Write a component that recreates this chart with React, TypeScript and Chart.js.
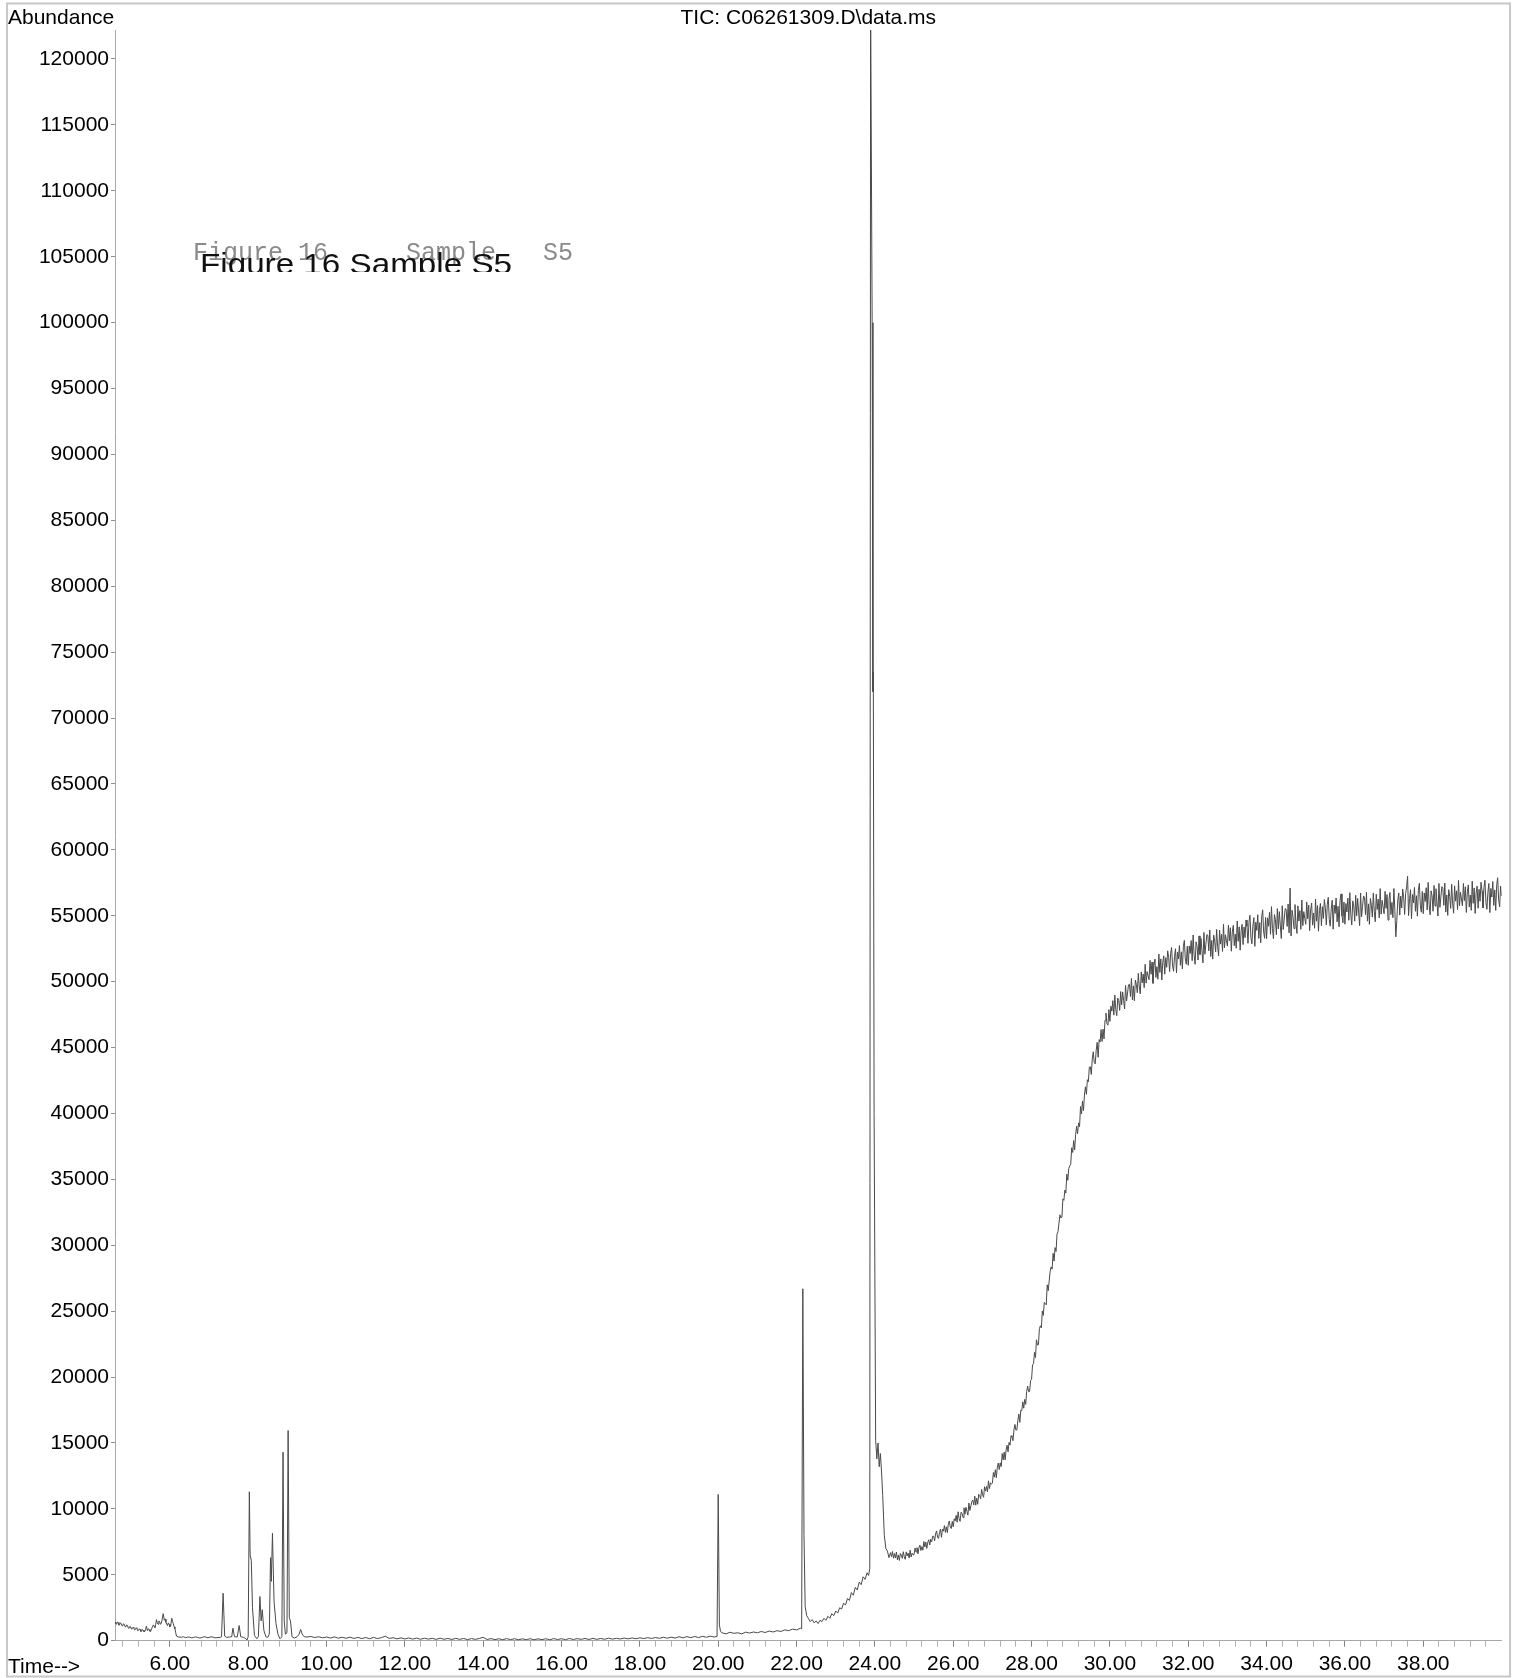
import React, { useEffect, useRef } from 'react';
import { Chart, registerables } from 'chart.js';

Chart.register(...registerables);

const FONT = '"Liberation Sans", Arial, Helvetica, sans-serif';
const MONO = '"Liberation Mono", "Courier New", monospace';

const chartTitle = 'TIC: C06261309.D\\data.ms';
const yAxisTitle = 'Abundance';
const xAxisTitle = 'Time-->';
const captionBackParts = ['Figure 16', 'Sample', 'S5'];
const captionFront = 'Figure 16 Sample S5';

const yTicks = [
  0, 5000, 10000, 15000, 20000, 25000, 30000, 35000, 40000, 45000, 50000, 55000, 60000,
  65000, 70000, 75000, 80000, 85000, 90000, 95000, 100000, 105000, 110000, 115000, 120000,
];
const xMajorTicks = [6, 8, 10, 12, 14, 16, 18, 20, 22, 24, 26, 28, 30, 32, 34, 36, 38];

// [time (min), abundance], 4.6 – 24.4 min
const earlyScan: [number, number][] = [
  [4.60, 1400], [4.62, 1280], [4.64, 1250], [4.66, 1420], [4.68, 1380], [4.70, 1180], [4.72, 1220],
  [4.74, 1350], [4.76, 1300], [4.78, 1120], [4.80, 1150], [4.82, 1290], [4.84, 1230], [4.86, 1050],
  [4.88, 1080], [4.90, 1200], [4.92, 1150], [4.94, 940], [4.96, 980], [4.98, 1100], [5.00, 1050],
  [5.02, 880], [5.04, 900], [5.06, 1020], [5.08, 960], [5.10, 820], [5.12, 850], [5.14, 980],
  [5.16, 920], [5.18, 760], [5.20, 780], [5.22, 900], [5.24, 860], [5.26, 700], [5.28, 720],
  [5.30, 850], [5.32, 800], [5.34, 680], [5.36, 700], [5.38, 820], [5.40, 1100], [5.43, 760],
  [5.45, 900], [5.47, 850], [5.49, 720], [5.51, 700], [5.53, 880], [5.55, 1000], [5.58, 1200],
  [5.60, 1080], [5.62, 1000], [5.64, 1250], [5.66, 1600], [5.68, 1350], [5.70, 1250], [5.72, 1500],
  [5.74, 1450], [5.76, 1250], [5.78, 1300], [5.80, 1550], [5.83, 2050], [5.86, 1550], [5.88, 1650],
  [5.90, 1400], [5.92, 1250], [5.94, 1150], [5.96, 1350], [5.98, 1250], [6.00, 1050], [6.02, 1100],
  [6.05, 1700], [6.07, 1450], [6.09, 1300], [6.11, 1050], [6.13, 900], [6.15, 600], [6.17, 350],
  [6.22, 280],
  [6.30, 260], [6.35, 300], [6.40, 230], [6.45, 270], [6.50, 280], [6.55, 220], [6.60, 240],
  [6.65, 290], [6.70, 260], [6.75, 210], [6.80, 220], [6.85, 280], [6.90, 300], [6.95, 230],
  [7.00, 240], [7.05, 300], [7.10, 270], [7.15, 220], [7.20, 230], [7.28, 250], [7.32, 300],
  [7.36, 3600], [7.40, 350], [7.45, 250], [7.52, 280], [7.58, 300], [7.61, 950], [7.65, 300],
  [7.72, 280], [7.77, 1150], [7.81, 300], [7.88, 260], [7.94, 150], [7.97, 50], [8.00, 300],
  [8.03, 11300], [8.05, 6500], [8.08, 6100], [8.11, 2500], [8.16, 400], [8.22, 150], [8.26, 300],
  [8.30, 3350], [8.33, 1500], [8.36, 2350], [8.40, 800], [8.45, 300], [8.50, 250], [8.54, 500],
  [8.57, 6300], [8.59, 4500], [8.62, 8150], [8.66, 3000], [8.71, 1300], [8.76, 500], [8.81, 150],
  [8.86, 300], [8.89, 14300], [8.92, 1500], [8.95, 500], [8.99, 600], [9.02, 15950], [9.05, 1750],
  [9.08, 1500], [9.12, 300], [9.18, 200], [9.25, 300], [9.30, 500], [9.34, 850], [9.38, 500],
  [9.43, 300], [9.50, 280],
  [9.6, 320], [9.7, 240], [9.8, 300], [9.9, 220], [10.0, 280], [10.1, 200], [10.2, 290], [10.3, 190],
  [10.4, 260], [10.5, 180], [10.6, 270], [10.7, 170], [10.8, 250], [10.9, 160], [11.0, 240],
  [11.1, 150], [11.2, 250], [11.3, 160], [11.4, 230], [11.5, 340], [11.6, 170], [11.7, 230],
  [11.8, 140], [11.9, 220], [12.0, 130], [12.1, 210], [12.2, 120], [12.3, 200], [12.4, 110],
  [12.5, 190], [12.6, 120], [12.7, 180], [12.8, 100], [12.9, 190], [13.0, 110], [13.1, 170],
  [13.2, 90], [13.3, 180], [13.4, 100], [13.5, 170], [13.6, 80], [13.7, 160], [13.8, 100],
  [13.9, 170], [14.0, 260], [14.1, 90], [14.2, 160], [14.3, 80], [14.4, 150], [14.5, 70],
  [14.6, 160], [14.7, 80], [14.8, 150], [14.9, 70], [15.0, 140], [15.1, 80], [15.2, 150],
  [15.3, 70], [15.4, 140], [15.5, 80], [15.6, 150], [15.7, 70], [15.8, 160], [15.9, 90],
  [16.0, 150], [16.1, 80], [16.2, 170], [16.3, 90], [16.4, 160], [16.5, 100], [16.6, 170],
  [16.7, 90], [16.8, 180], [16.9, 100], [17.0, 170], [17.1, 110], [17.2, 190], [17.3, 120],
  [17.4, 180], [17.5, 130], [17.6, 200], [17.7, 140], [17.8, 210], [17.9, 150], [18.0, 220],
  [18.1, 160], [18.2, 230], [18.3, 170], [18.4, 240], [18.5, 180], [18.6, 260], [18.7, 190],
  [18.8, 270], [18.9, 200], [19.0, 300], [19.1, 220], [19.2, 310], [19.3, 230], [19.4, 320],
  [19.5, 240], [19.6, 330], [19.7, 260], [19.8, 340], [19.9, 280], [19.97, 330],
  [20.00, 11100], [20.03, 1200], [20.06, 700],
  [20.1, 600], [20.2, 520], [20.3, 640], [20.4, 560], [20.5, 600], [20.6, 520], [20.7, 650],
  [20.8, 580], [20.9, 660], [21.0, 600], [21.1, 700], [21.2, 620], [21.3, 730], [21.4, 660],
  [21.5, 760], [21.6, 700], [21.7, 820], [21.8, 760], [21.9, 880], [22.0, 820], [22.10, 950],
  [22.13, 900], [22.16, 26700], [22.19, 8000], [22.22, 2600], [22.26, 1900], [22.30, 1700],
  [22.35, 1450], [22.40, 1600], [22.45, 1350], [22.50, 1500], [22.55, 1300], [22.60, 1550],
  [22.65, 1450], [22.70, 1700], [22.75, 1550], [22.80, 1850], [22.85, 1700], [22.90, 2050],
  [22.95, 1900], [23.00, 2250], [23.05, 2100], [23.10, 2500], [23.15, 2400], [23.20, 2850],
  [23.25, 2700], [23.30, 3200], [23.35, 3050], [23.40, 3650], [23.45, 3450], [23.50, 4050],
  [23.55, 3850], [23.60, 4450], [23.65, 4250], [23.70, 4850], [23.75, 4650], [23.80, 5150],
  [23.84, 4950], [23.87, 5500], [23.89, 125000], [23.93, 100000], [23.95, 72000], [23.96, 73500],
  [23.98, 40000], [24.02, 15200], [24.05, 13800], [24.08, 15000], [24.11, 13200], [24.14, 14200],
  [24.17, 12800], [24.20, 11000], [24.24, 8000], [24.28, 7000], [24.32, 6800], [24.36, 6300],
];

const lateScanStart = 24.4;
const lateScanStep = 0.025;
const lateAbundance = [
  // 24.400 – 24.475
  6680, 6380, 6770, 6260,
  // 24.5
  6610, 6270, 6730, 6140, 6500, 6090, 6620, 6490, 6250, 6750, 6370, 6170, 6740, 6430, 6650, 6270, 6870, 6350, 6640, 6510,
  // 25.0
  6530, 7030, 6730, 7060, 6590, 7060, 7250, 6840, 7140, 6870, 7520, 7110, 7480, 7000, 7470, 7660, 7260, 7690, 7500, 7930,
  // 25.5
  7920, 7580, 8110, 8330, 7860, 7760, 8210, 8470, 7840, 8460, 8310, 8730, 8220, 8640, 8210, 8870, 9080, 8620, 8510, 9050,
  // 26.0
  8640, 9250, 9090, 9510, 8990, 9780, 9260, 9050, 9750, 9680, 9340, 10080, 9600, 10120, 9820, 9530, 10450, 9880, 10220, 10550,
  // 26.5
  10670, 10300, 10970, 10280, 10810, 10350, 11110, 11010, 10770, 11480, 11070, 10880, 11680, 11350, 11700, 11290, 12130, 11540, 11980, 11880,
  // 27.0
  11950, 12760, 12410, 12970, 12370, 13130, 13480, 12990, 13490, 13200, 14200, 13710, 14310, 13720, 14470, 14830, 14330, 15040, 14840, 15550,
  // 27.5
  15450, 15170, 15990, 16410, 15980, 16000, 16720, 17190, 16560, 17480, 17450, 18120, 17640, 18310, 17930, 18900, 19320, 18890, 18910, 19730,
  // 28.0
  19820, 20930, 21010, 21880, 21480, 22830, 22430, 22460, 23680, 23890, 23730, 25020, 24680, 25670, 25570, 25480, 27000, 26550, 27290, 28040,
  // 28.5
  28360, 28190, 29390, 28800, 29820, 29530, 30850, 31040, 31040, 32310, 32070, 32140, 33520, 33410, 34190, 33960, 35400, 34930, 35830, 36020,
  // 29.0
  36150, 37400, 37040, 37940, 37230, 38410, 39030, 38460, 39290, 39000, 40530, 39960, 40930, 40220, 41400, 42020, 41450, 42560, 42410, 43520,
  // 29.5
  43540, 42960, 44140, 44680, 43860, 43760, 44780, 45400, 44260, 45600, 45420, 46360, 45460, 46400, 45660, 47080, 47620, 46800, 46700, 47880,
  // 30.0
  46980, 48140, 47760, 48560, 47460, 48980, 47880, 47420, 48750, 48560, 47820, 49250, 48240, 49220, 48570, 47930, 49710, 48530, 49140, 49760,
  // 30.5
  49800, 48870, 50240, 48610, 49680, 48550, 50120, 49790, 49160, 50630, 49600, 49070, 50740, 49910, 50580, 49550, 51320, 49890, 50760, 50430,
  // 31.0
  50150, 51620, 50560, 51480, 49870, 51230, 51710, 50320, 51130, 50180, 52090, 50700, 51730, 50120, 51480, 51960, 50570, 51820, 51090, 52340,
  // 31.5
  51830, 50760, 52120, 52590, 51190, 50790, 51920, 52500, 50660, 52240, 51720, 52740, 51240, 52260, 50970, 52660, 53130, 51730, 51320, 52680,
  // 32.0
  51240, 52710, 52140, 53120, 51590, 53540, 52010, 51320, 53020, 52690, 51640, 53470, 52060, 53280, 52350, 51420, 53730, 52080, 52820, 53570,
  // 32.5
  53520, 52340, 53920, 51910, 53130, 51710, 53530, 53070, 52260, 53960, 52660, 51960, 53900, 52850, 53590, 52290, 54350, 52570, 53560, 53100,
  // 33.0
  52700, 54280, 53100, 54090, 52310, 53770, 54270, 52730, 53600, 52540, 54600, 53060, 54160, 52390, 53850, 54350, 52810, 54150, 53340, 54680,
  // 33.5
  54190, 52910, 54490, 55040, 53370, 52870, 54190, 54860, 52680, 54520, 53890, 55080, 53280, 54480, 52940, 54910, 55450, 53780, 53290, 54870,
  // 34.0
  53260, 54840, 54210, 55260, 53590, 55690, 54020, 53260, 55090, 54720, 53570, 55540, 54000, 55310, 54290, 53270, 55760, 53960, 54750, 55550,
  // 34.5
  55480, 54190, 55890, 53700, 57100, 53460, 55420, 54910, 54020, 55850, 54430, 53660, 55750, 54600, 55390, 53970, 56190, 54250, 55310, 54800,
  // 35.0
  54350, 56050, 54760, 55810, 53870, 55440, 55970, 54290, 55210, 54050, 56270, 54590, 55770, 53830, 55400, 55930, 54250, 55690, 54790, 56230,
  // 35.5
  55590, 54300, 55870, 56400, 54720, 54210, 55520, 56180, 53980, 55810, 55170, 56350, 54540, 55720, 54170, 56130, 56660, 54980, 54470, 56040,
  // 36.0
  54360, 55930, 55290, 56340, 54660, 56750, 55070, 54300, 56130, 55750, 54590, 56550, 55000, 56310, 55280, 54250, 56730, 54920, 55710, 56500,
  // 36.5
  56380, 55090, 56790, 54590, 55900, 54350, 56310, 55800, 54900, 56730, 55310, 54540, 56630, 55470, 56260, 54840, 57060, 55120, 56170, 55660,
  // 37.0
  55150, 56850, 55560, 56610, 54670, 56240, 56770, 55090, 56010, 54850, 57070, 55390, 53400, 54630, 56200, 56730, 55050, 56490, 55590, 57030,
  // 37.5
  56390, 55100, 56670, 57200, 58000, 55010, 56320, 56980, 54780, 56610, 55970, 57150, 55340, 56520, 54970, 56930, 57460, 55780, 55270, 56840,
  // 38.0
  55160, 56730, 56080, 57130, 55440, 57530, 55840, 55070, 56890, 56510, 55340, 57300, 55740, 57050, 56010, 54980, 57450, 55640, 56420, 57210,
  // 38.5
  57080, 55790, 57480, 55280, 56580, 55030, 56980, 56470, 55560, 57390, 55960, 55190, 57270, 56110, 56890, 55470, 57680, 55740, 56780, 56270,
  // 39.0
  55750, 57450, 56150, 57200, 55250, 56820, 57340, 55660, 56570, 55410, 57620, 55940, 57110, 55170, 56730, 57260, 55570, 57010, 56100, 57540,
  // 39.5
  56890, 55600, 57160, 57690, 56000, 55490, 56790, 57450, 55240, 57070, 56420, 57600, 55780, 56960, 55400, 57360, 57880, 56200, 55680, 57250,
  // 40.0
  56500,
];

const CANVAS_W = 1518;
const CANVAS_H = 1678;

const framePlugin = {
  id: 'frameAndText',
  beforeDraw(chart: any) {
    const ctx = chart.ctx;
    ctx.save();
    ctx.fillStyle = '#ffffff';
    ctx.fillRect(0, 0, CANVAS_W, CANVAS_H);
    ctx.strokeStyle = '#c8c8c8';
    ctx.lineWidth = 2;
    ctx.strokeRect(7, 3.5, 1503, 1673);
    ctx.restore();
  },
  afterDraw(chart: any) {
    const ctx = chart.ctx;
    const area = chart.chartArea;
    ctx.save();
    ctx.fillStyle = '#000';
    ctx.font = `21px ${FONT}`;
    ctx.textBaseline = 'alphabetic';
    ctx.textAlign = 'left';
    ctx.fillText(yAxisTitle, 8, 24);
    ctx.fillText(xAxisTitle, 8, 1673);
    ctx.textAlign = 'center';
    ctx.fillText(chartTitle, (area.left + area.right) / 2, 24);

    // grey typewriter caption
    ctx.textAlign = 'left';
    ctx.fillStyle = '#8a8a8a';
    ctx.font = `25px ${MONO}`;
    const partX = [193, 406, 543];
    captionBackParts.forEach((part, i) => ctx.fillText(part, partX[i], 260));

    // black caption, clipped at its baseline
    ctx.save();
    ctx.beginPath();
    ctx.rect(0, 0, CANVAS_W, 272);
    ctx.clip();
    ctx.fillStyle = '#111';
    ctx.font = `30px ${FONT}`;
    const w = ctx.measureText(captionFront).width;
    ctx.translate(200, 274);
    ctx.scale(312 / w, 1);
    ctx.fillText(captionFront, 0, 0);
    ctx.restore();
    ctx.restore();
  },
};

export default function App() {
  const canvasRef = useRef<HTMLCanvasElement | null>(null);

  useEffect(() => {
    document.body.style.margin = '0';
    const canvas = canvasRef.current;
    if (!canvas) return;

    const points = [
      ...earlyScan.map(([x, y]) => ({ x, y })),
      ...lateAbundance.map((y, i) => ({ x: Math.round((lateScanStart + i * lateScanStep) * 1000) / 1000, y })),
    ];

    const xTickValues: number[] = [];
    for (let k = 12; k <= 99; k++) xTickValues.push(Math.round(k * 4) / 10);
    const isMajor = (v: number) => xMajorTicks.some((m) => Math.abs(m - v) < 1e-6);

    const chart = new Chart(canvas, {
      type: 'line',
      data: {
        datasets: [
          {
            data: points,
            borderColor: '#4a4a4a',
            borderWidth: 1,
            pointRadius: 0,
            tension: 0,
            fill: false,
          },
        ],
      },
      options: {
        animation: false,
        responsive: false,
        devicePixelRatio: 1,
        parsing: false,
        layout: { padding: { top: 30, right: 16.4, bottom: 0, left: 0 } },
        plugins: {
          legend: { display: false },
          tooltip: { enabled: false },
          title: { display: false },
        },
        scales: {
          x: {
            type: 'linear',
            min: 4.6,
            max: 40.0,
            afterBuildTicks: (scale: any) => {
              scale.ticks = xTickValues.map((value) => ({ value }));
            },
            afterFit: (scale: any) => {
              scale.height = 37.3;
            },
            ticks: {
              autoSkip: false,
              maxRotation: 0,
              minRotation: 0,
              padding: 5,
              color: '#000',
              font: { family: FONT, size: 21 },
              callback: (value: any) => (isMajor(Number(value)) ? Number(value).toFixed(2) : ''),
            },
            grid: {
              drawOnChartArea: false,
              drawTicks: true,
              tickLength: 6,
              tickWidth: 1,
              tickColor: (ctx: any) => (ctx.tick && isMajor(ctx.tick.value) ? '#808080' : '#b0b0b0'),
            },
            border: { display: true, color: '#a8a8a8', width: 1 },
          },
          y: {
            type: 'linear',
            min: 0,
            max: 122200,
            afterBuildTicks: (scale: any) => {
              scale.ticks = yTicks.map((value) => ({ value }));
            },
            afterFit: (scale: any) => {
              scale.width = 115;
            },
            ticks: {
              autoSkip: false,
              padding: 2,
              color: '#000',
              font: { family: FONT, size: 21 },
              callback: (value: any) => String(value),
            },
            grid: {
              drawOnChartArea: false,
              drawTicks: true,
              tickLength: 4,
              tickWidth: 1,
              tickColor: '#909090',
            },
            border: { display: true, color: '#a8a8a8', width: 1 },
          },
        },
      },
      plugins: [framePlugin],
    } as any);

    return () => {
      chart.destroy();
    };
  }, []);

  return (
    <div style={{ width: CANVAS_W, height: CANVAS_H }}>
      <canvas ref={canvasRef} width={CANVAS_W} height={CANVAS_H} style={{ display: 'block' }} />
    </div>
  );
}
